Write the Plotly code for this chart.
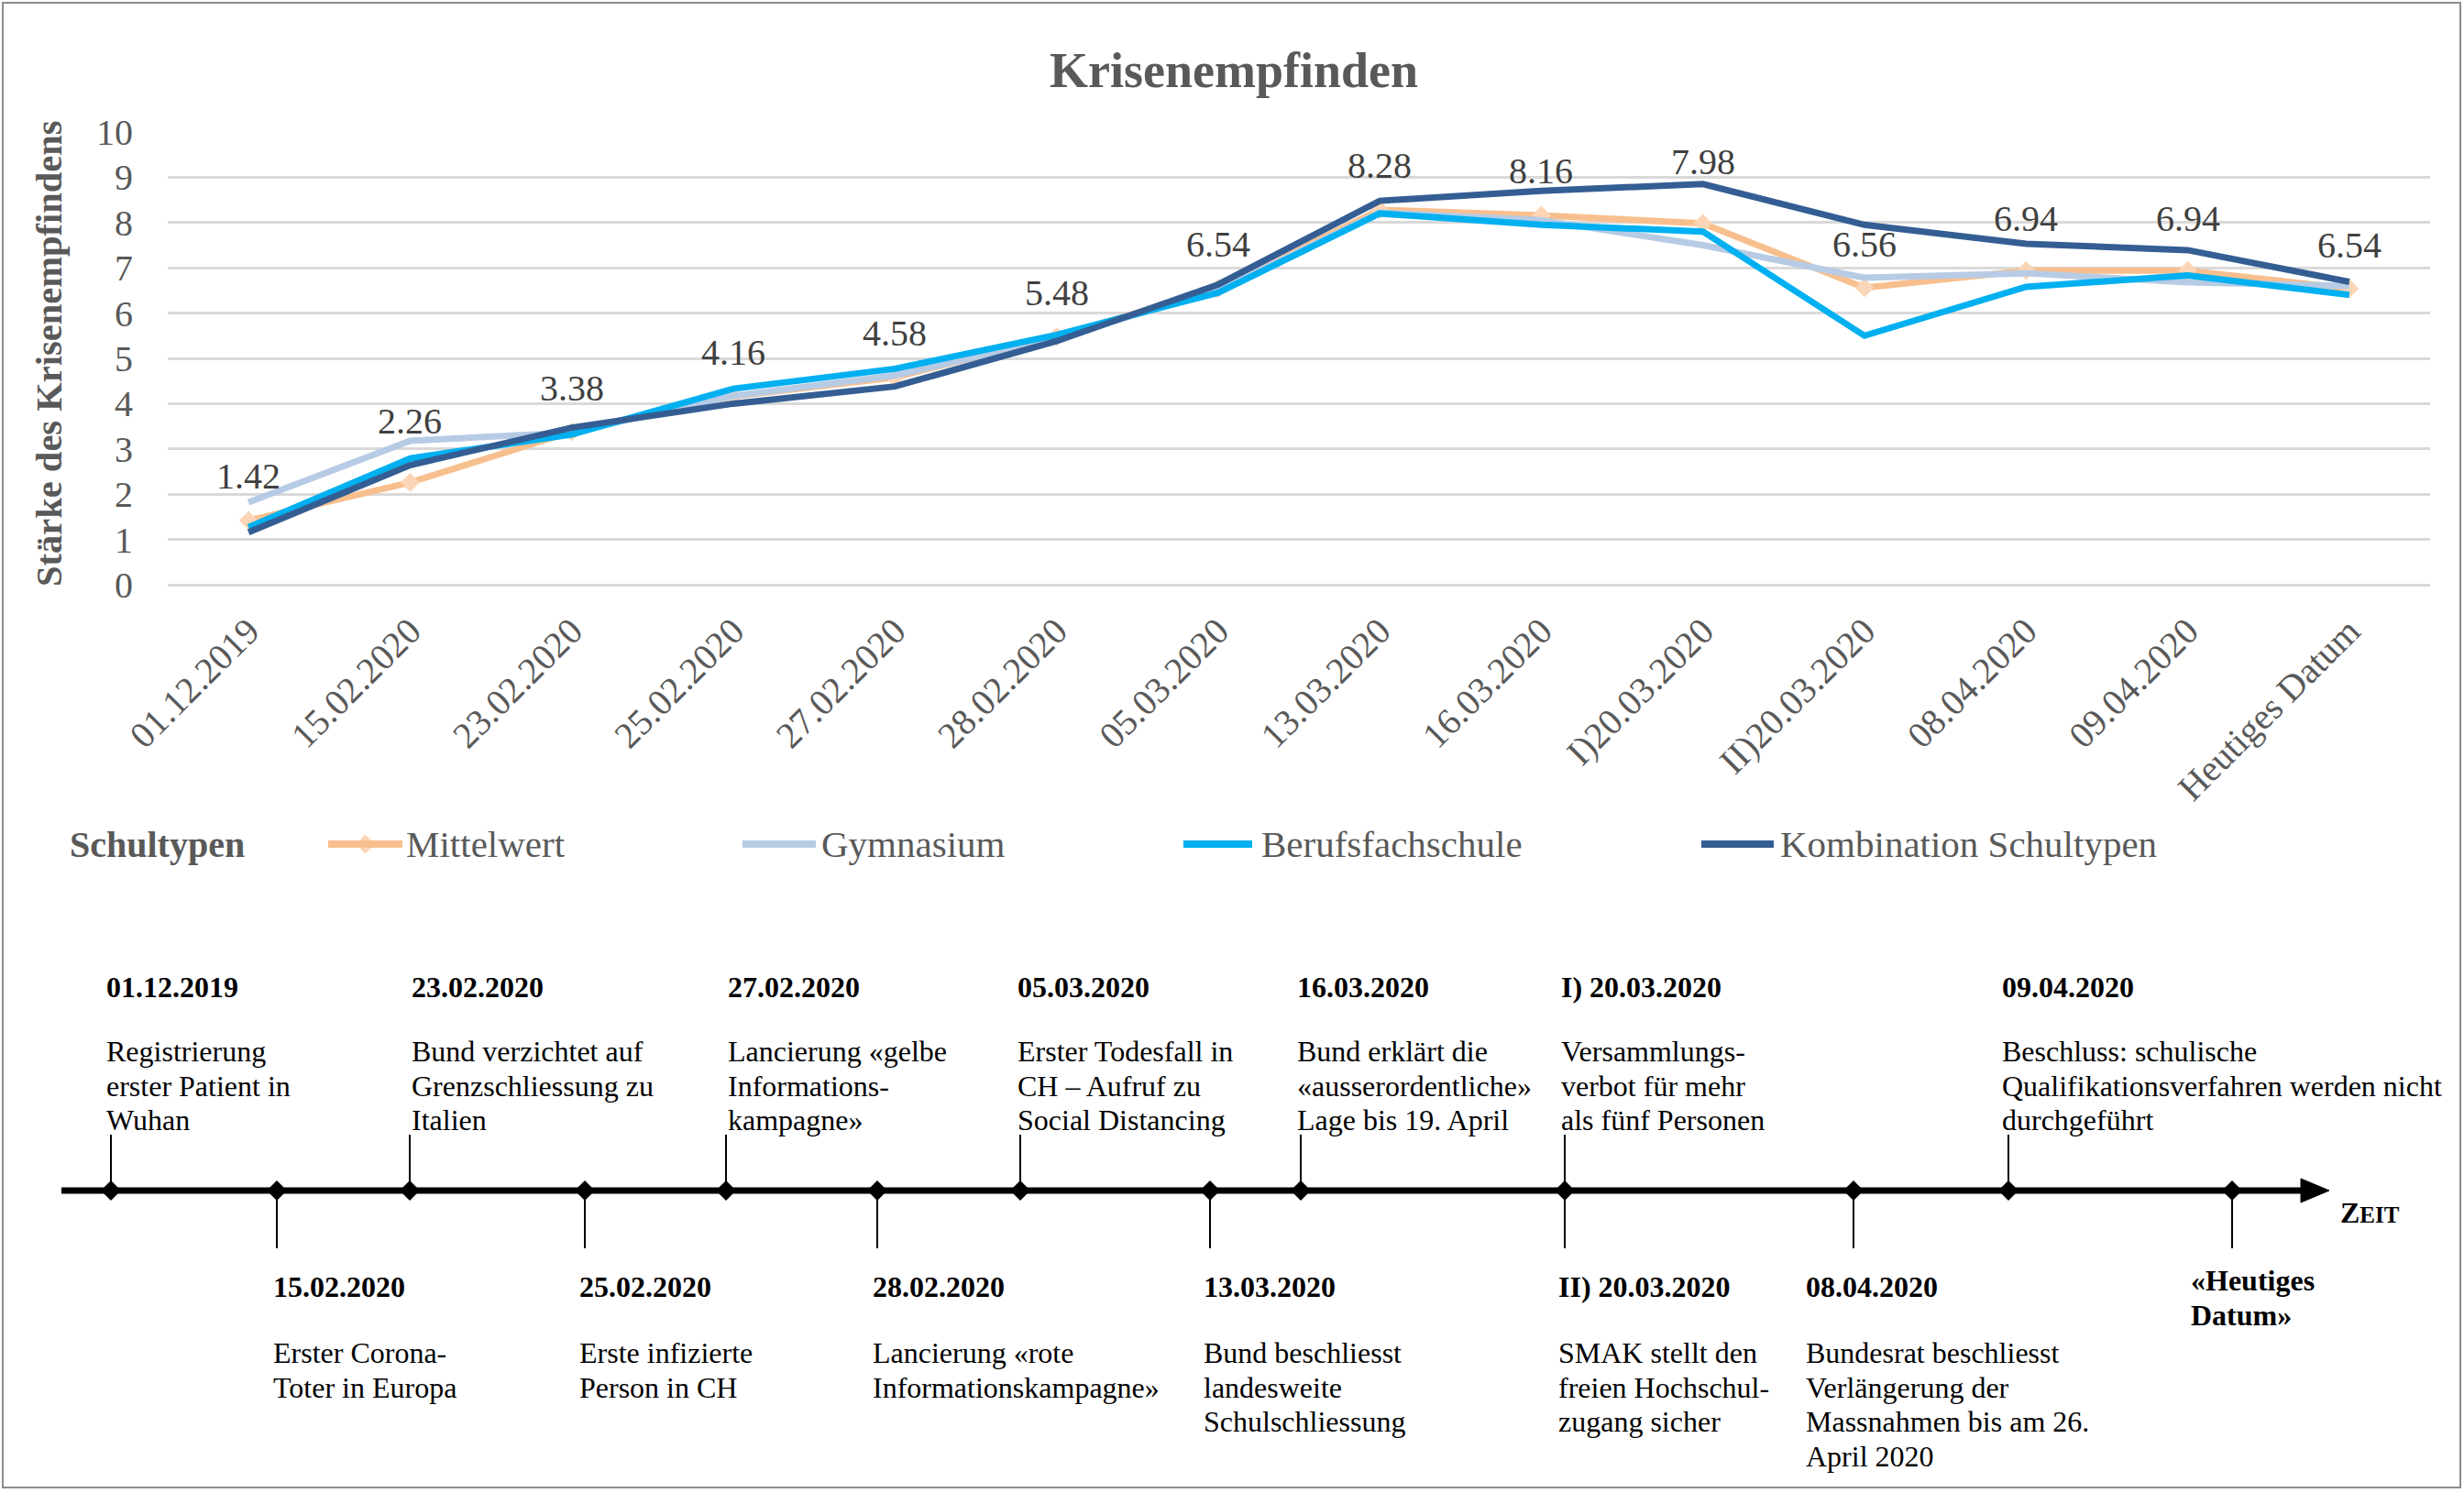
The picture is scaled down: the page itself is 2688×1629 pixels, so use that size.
import plotly.graph_objects as go

W, H = 2688, 1629

# ---------------- data ----------------
categories = ["01.12.2019", "15.02.2020", "23.02.2020", "25.02.2020", "27.02.2020",
              "28.02.2020", "05.03.2020", "13.03.2020", "16.03.2020", "I)20.03.2020",
              "II)20.03.2020", "08.04.2020", "09.04.2020", "Heutiges Datum"]
mittelwert = [1.42, 2.26, 3.38, 4.16, 4.58, 5.48, 6.54, 8.28, 8.16, 7.98, 6.56, 6.94, 6.94, 6.54]
gymnasium = [1.82, 3.18, 3.36, 4.17, 4.62, 5.45, 6.50, 8.22, 8.05, 7.50, 6.78, 6.88, 6.68, 6.60]
berufsfachschule = [1.27, 2.79, 3.32, 4.33, 4.77, 5.52, 6.45, 8.20, 7.95, 7.80, 5.50, 6.58, 6.83, 6.40]
kombination = [1.16, 2.64, 3.47, 4.00, 4.38, 5.38, 6.63, 8.48, 8.70, 8.85, 7.95, 7.53, 7.39, 6.69]
y_ticks = [0, 1, 2, 3, 4, 5, 6, 7, 8, 9, 10]

series_names = ["Mittelwert", "Gymnasium", "Berufsfachschule", "Kombination Schultypen"]

# timeline events (text)
top_dates = ["01.12.2019", "23.02.2020", "27.02.2020", "05.03.2020", "16.03.2020",
             "I) 20.03.2020", "09.04.2020"]
top_texts = [["Registrierung", "erster Patient in", "Wuhan"],
             ["Bund verzichtet auf", "Grenzschliessung zu", "Italien"],
             ["Lancierung «gelbe", "Informations-", "kampagne»"],
             ["Erster Todesfall in", "CH – Aufruf zu", "Social Distancing"],
             ["Bund erklärt die", "«ausserordentliche»", "Lage bis 19. April"],
             ["Versammlungs-", "verbot für mehr", "als fünf Personen"],
             ["Beschluss: schulische", "Qualifikationsverfahren werden nicht", "durchgeführt"]]
bottom_dates = [["15.02.2020"], ["25.02.2020"], ["28.02.2020"], ["13.03.2020"],
                ["II) 20.03.2020"], ["08.04.2020"], ["«Heutiges", "Datum»"]]
bottom_texts = [["Erster Corona-", "Toter in Europa"],
                ["Erste infizierte", "Person in CH"],
                ["Lancierung «rote", "Informationskampagne»"],
                ["Bund beschliesst", "landesweite", "Schulschliessung"],
                ["SMAK stellt den", "freien Hochschul-", "zugang sicher"],
                ["Bundesrat beschliesst", "Verlängerung der", "Massnahmen bis am 26.", "April 2020"],
                []]

# ---------------- layout positions (pixels) ----------------
label_shift = [48, 67, 48, 48, 48, 48, 48, 48, 48, 67, 47, 57, 57, 47]
top_mark_x = [121, 447, 792, 1113, 1419, 1707, 2191]
top_text_x = [114, 447, 792, 1108, 1413, 1701, 2182]
bot_mark_x = [302, 638, 957, 1320, 1707, 2022, 2435]
bot_text_x = [296, 630, 950, 1311, 1698, 1968, 2388]
bot_date_y = [1404, 1404, 1404, 1404, 1404, 1404, 1397]
TL_Y = 1299

SERIF = "Liberation Serif, Times New Roman, serif"
GREY = "#595959"
colors = ["#F8BF8E", "#B7CBE5", "#00B0F0", "#345E93"]

PL, PR, PT, PB = 183, 2651, 144, 638

fig = go.Figure()

# main chart traces
series = [mittelwert, gymnasium, berufsfachschule, kombination]
for i, (name, vals) in enumerate(zip(series_names, series)):
    if i == 0:
        fig.add_trace(go.Scatter(x=categories, y=vals, name=name, mode="lines+markers",
                                 line=dict(color=colors[0], width=7),
                                 marker=dict(symbol="diamond", size=16, color="#FBD5B6",
                                             line=dict(width=0)),
                                 showlegend=False))
    else:
        fig.add_trace(go.Scatter(x=categories, y=vals, name=name, mode="lines",
                                 line=dict(color=colors[i], width=7), showlegend=False))

# data labels for Mittelwert
for c, v, s in zip(categories, mittelwert, label_shift):
    fig.add_annotation(x=c, y=v, xref="x", yref="y", text=f"{v:.2f}", showarrow=False,
                       yshift=s, font=dict(family=SERIF, size=40, color="#404040"))

# timeline diamonds (pixel axes)
all_mark_x = sorted(set(top_mark_x + bot_mark_x))
fig.add_trace(go.Scatter(x=all_mark_x, y=[TL_Y] * len(all_mark_x), xaxis="x2", yaxis="y2",
                         mode="markers", marker=dict(symbol="diamond", size=17, color="black"),
                         showlegend=False, hoverinfo="skip"))

shapes = []
# timeline line + arrow
shapes.append(dict(type="line", xref="x2", yref="y2", x0=67, x1=2516, y0=TL_Y, y1=TL_Y,
                   line=dict(color="black", width=7)))
shapes.append(dict(type="path", xref="x2", yref="y2",
                   path=f"M 2510,{TL_Y-13} L 2541,{TL_Y} L 2510,{TL_Y+13} Z",
                   fillcolor="black", line=dict(color="black", width=1)))
for x in top_mark_x:
    shapes.append(dict(type="line", xref="x2", yref="y2", x0=x, x1=x, y0=TL_Y, y1=1238,
                       line=dict(color="black", width=2)))
for x in bot_mark_x:
    shapes.append(dict(type="line", xref="x2", yref="y2", x0=x, x1=x, y0=TL_Y, y1=1362,
                       line=dict(color="black", width=2)))
# outer border
shapes.append(dict(type="rect", xref="x2", yref="y2", x0=3, x1=2684, y0=3, y1=1623,
                   line=dict(color="#8C8C8C", width=2)))

# legend (custom)
leg_y = 921
leg_sym = [(358, 439), (810, 890), (1291, 1366), (1856, 1935)]
leg_txt_x = [441, 894, 1374, 1940]
for i, ((a, b), tx) in enumerate(zip(leg_sym, leg_txt_x)):
    shapes.append(dict(type="line", xref="x2", yref="y2", x0=a, x1=b, y0=leg_y, y1=leg_y,
                       line=dict(color=colors[i], width=8)))
    fig.add_annotation(x=tx, y=leg_y, xref="x2", yref="y2", text=series_names[i],
                       showarrow=False, xanchor="left", yanchor="middle",
                       font=dict(family=SERIF, size=41, color=GREY))
fig.add_trace(go.Scatter(x=[(leg_sym[0][0] + leg_sym[0][1]) / 2], y=[leg_y], xaxis="x2", yaxis="y2",
                         mode="markers", marker=dict(symbol="diamond", size=16, color="#FBD5B6"),
                         showlegend=False, hoverinfo="skip"))
fig.add_annotation(x=74, y=leg_y, xref="x2", yref="y2", text="<b>Schultypen</b>",
                   showarrow=False, xanchor="left", yanchor="middle",
                   font=dict(family=SERIF, size=40, color=GREY))

# timeline texts
LS = 37.7
for x, d, lines in zip(top_text_x, top_dates, top_texts):
    fig.add_annotation(x=x, y=1077, xref="x2", yref="y2", text=f"<b>{d}</b>", showarrow=False,
                       xanchor="left", yanchor="middle", font=dict(family=SERIF, size=32, color="black"))
    for k, ln in enumerate(lines):
        fig.add_annotation(x=x, y=1147 + k * LS, xref="x2", yref="y2", text=ln, showarrow=False,
                           xanchor="left", yanchor="middle", font=dict(family=SERIF, size=32, color="black"))
for x, dy, dl, lines in zip(bot_text_x, bot_date_y, bottom_dates, bottom_texts):
    for k, d in enumerate(dl):
        fig.add_annotation(x=x, y=dy + k * LS, xref="x2", yref="y2", text=f"<b>{d}</b>", showarrow=False,
                           xanchor="left", yanchor="middle", font=dict(family=SERIF, size=32, color="black"))
    for k, ln in enumerate(lines):
        fig.add_annotation(x=x, y=1476 + k * LS, xref="x2", yref="y2", text=ln, showarrow=False,
                           xanchor="left", yanchor="middle", font=dict(family=SERIF, size=32, color="black"))

fig.add_annotation(x=2551, y=1323, xref="x2", yref="y2",
                   text="<b>Z<span style='font-size:25px'>EIT</span></b>", showarrow=False,
                   xanchor="left", yanchor="middle", font=dict(family=SERIF, size=32, color="black"))

# title and axis title
fig.add_annotation(x=1346, y=77, xref="x2", yref="y2", text="<b>Krisenempfinden</b>", showarrow=False,
                   font=dict(family=SERIF, size=54, color=GREY))
fig.add_annotation(x=53, y=386, xref="x2", yref="y2", text="<b>Stärke des Krisenempfindens</b>",
                   showarrow=False, textangle=-90, font=dict(family=SERIF, size=40.5, color=GREY))

fig.update_layout(
    template="none",
    width=W, height=H, margin=dict(l=0, r=0, t=0, b=0, pad=0, autoexpand=False),
    paper_bgcolor="white", plot_bgcolor="rgba(0,0,0,0)",
    shapes=shapes, showlegend=False,
    xaxis=dict(domain=[PL / W, PR / W], type="category", range=[-0.5, len(categories) - 0.5],
               tickangle=-45, showgrid=False, showline=False, zeroline=False, ticks="",
               automargin=False,
               tickfont=dict(family=SERIF, size=40, color=GREY), ticklabelstandoff=18),
    yaxis=dict(domain=[1 - PB / H, 1 - PT / H], range=[0, 10], tickvals=y_ticks,
               showgrid=True, gridcolor="#D9D9D9", gridwidth=3, zeroline=True,
               zerolinecolor="#D9D9D9", zerolinewidth=3, showline=False, ticks="",
               automargin=False,
               tickfont=dict(family=SERIF, size=40, color=GREY), ticklabelstandoff=37),
    xaxis2=dict(domain=[0, 1], range=[0, W], visible=False, anchor="y2", automargin=False),
    yaxis2=dict(domain=[0, 1], range=[H, 0], visible=False, anchor="x2", automargin=False),
)

fig.write_html("out.html", config={"displayModeBar": False},
               post_script="document.body.style.margin='0';document.body.style.overflow='hidden';")
